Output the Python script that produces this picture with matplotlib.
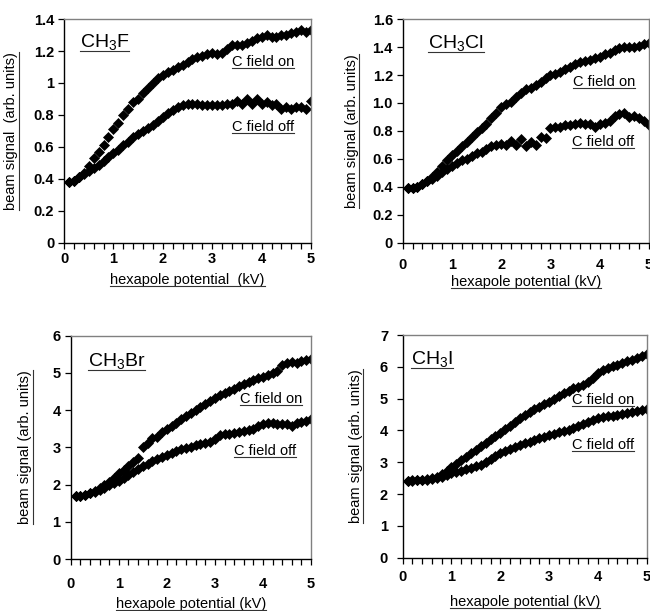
import matplotlib
matplotlib.use("Agg")
import matplotlib.pyplot as plt
from matplotlib.lines import Line2D
from matplotlib.ticker import MultipleLocator, FixedLocator

plt.rcParams['font.family'] = ['Liberation Sans', 'DejaVu Sans']
plt.rcParams['mathtext.default'] = 'regular'

# hexapole potential (kV)
voltage = [0.1, 0.2, 0.3, 0.4, 0.5, 0.6, 0.7, 0.8, 0.9, 1.0,
           1.1, 1.2, 1.3, 1.4, 1.5, 1.6, 1.7, 1.8, 1.9, 2.0,
           2.1, 2.2, 2.3, 2.4, 2.5, 2.6, 2.7, 2.8, 2.9, 3.0,
           3.1, 3.2, 3.3, 3.4, 3.5, 3.6, 3.7, 3.8, 3.9, 4.0,
           4.1, 4.2, 4.3, 4.4, 4.5, 4.6, 4.7, 4.8, 4.9, 5.0]

ch3f_on = [0.38, 0.39, 0.41, 0.44, 0.48, 0.53, 0.57, 0.61, 0.66, 0.71,
           0.75, 0.80, 0.84, 0.88, 0.90, 0.94, 0.97, 1.00, 1.03, 1.05,
           1.07, 1.08, 1.10, 1.11, 1.13, 1.15, 1.16, 1.17, 1.18, 1.19,
           1.18, 1.19, 1.21, 1.24, 1.24, 1.24, 1.25, 1.26, 1.28, 1.29,
           1.30, 1.29, 1.29, 1.30, 1.30, 1.31, 1.32, 1.33, 1.32, 1.33]
ch3f_off = [0.38, 0.39, 0.41, 0.43, 0.45, 0.47, 0.49, 0.51, 0.54, 0.56,
            0.58, 0.61, 0.63, 0.66, 0.68, 0.70, 0.72, 0.74, 0.76, 0.79,
            0.81, 0.83, 0.85, 0.86, 0.87, 0.87, 0.87, 0.86, 0.86, 0.86,
            0.86, 0.86, 0.87, 0.87, 0.89, 0.87, 0.90, 0.87, 0.90, 0.87,
            0.88, 0.86, 0.87, 0.84, 0.85, 0.84, 0.85, 0.85, 0.84, 0.89]

ch3cl_on = [0.39, 0.39, 0.40, 0.42, 0.44, 0.47, 0.51, 0.55, 0.59, 0.63,
            0.66, 0.69, 0.72, 0.76, 0.79, 0.82, 0.85, 0.89, 0.93, 0.97,
            0.99, 1.01, 1.04, 1.07, 1.10, 1.11, 1.13, 1.15, 1.18, 1.20,
            1.21, 1.22, 1.24, 1.26, 1.28, 1.29, 1.30, 1.31, 1.32, 1.33,
            1.35, 1.36, 1.38, 1.39, 1.40, 1.40, 1.40, 1.41, 1.42, 1.43]
ch3cl_off = [0.39, 0.39, 0.40, 0.42, 0.44, 0.46, 0.48, 0.51, 0.53, 0.55,
             0.57, 0.59, 0.60, 0.62, 0.64, 0.65, 0.67, 0.69, 0.70, 0.71,
             0.70, 0.73, 0.70, 0.74, 0.69, 0.72, 0.70, 0.76, 0.75, 0.82,
             0.83, 0.83, 0.84, 0.84, 0.85, 0.86, 0.85, 0.85, 0.83, 0.85,
             0.86, 0.87, 0.91, 0.92, 0.93, 0.90, 0.91, 0.89, 0.87, 0.84]

ch3br_on = [1.70, 1.70, 1.72, 1.77, 1.82, 1.90, 1.98, 2.07, 2.18, 2.30,
            2.40, 2.50, 2.60, 2.72, 3.02, 3.12, 3.24, 3.27, 3.40, 3.50,
            3.58, 3.66, 3.75, 3.84, 3.92, 4.00, 4.09, 4.17, 4.25, 4.32,
            4.40, 4.46, 4.52, 4.58, 4.64, 4.70, 4.76, 4.80, 4.85, 4.90,
            4.95, 5.00, 5.05, 5.21, 5.26, 5.30, 5.27, 5.31, 5.35, 5.38]
ch3br_off = [1.70, 1.70, 1.72, 1.76, 1.80, 1.86, 1.92, 1.98, 2.03, 2.09,
             2.17, 2.26, 2.35, 2.43, 2.49, 2.56, 2.62, 2.68, 2.74, 2.80,
             2.86, 2.91, 2.95, 2.98, 3.02, 3.05, 3.08, 3.11, 3.15, 3.22,
             3.33, 3.36, 3.37, 3.39, 3.41, 3.44, 3.46, 3.50, 3.57, 3.63,
             3.66, 3.65, 3.64, 3.63, 3.62, 3.58, 3.65, 3.69, 3.72, 3.77]

ch3i_on = [2.42, 2.43, 2.44, 2.45, 2.47, 2.50, 2.55, 2.62, 2.72, 2.84,
           2.95, 3.06, 3.17, 3.28, 3.39, 3.50, 3.62, 3.73, 3.83, 3.92,
           4.04, 4.15, 4.26, 4.38, 4.48, 4.57, 4.66, 4.74, 4.82, 4.91,
           5.00, 5.09, 5.17, 5.25, 5.32, 5.38, 5.44, 5.52, 5.65, 5.80,
           5.90, 5.97, 6.02, 6.06, 6.11, 6.17, 6.23, 6.29, 6.35, 6.40]
ch3i_off = [2.42, 2.42, 2.43, 2.44, 2.45, 2.47, 2.50, 2.54, 2.60, 2.65,
            2.70, 2.74, 2.78, 2.82, 2.87, 2.93, 3.01, 3.10, 3.19, 3.28,
            3.35, 3.42, 3.49, 3.55, 3.60, 3.65, 3.70, 3.75, 3.80, 3.86,
            3.90, 3.95, 3.99, 4.03, 4.07, 4.13, 4.19, 4.26, 4.33, 4.38,
            4.43, 4.45, 4.47, 4.49, 4.51, 4.55, 4.59, 4.62, 4.64, 4.66]

titles = ['CH$_3$F', 'CH$_3$Cl', 'CH$_3$Br', 'CH$_3$I']
y_ticks = [[0, 0.2, 0.4, 0.6, 0.8, 1, 1.2, 1.4],
           [0, 0.2, 0.4, 0.6, 0.8, 1.0, 1.2, 1.4, 1.6],
           [0, 1, 2, 3, 4, 5, 6],
           [0, 1, 2, 3, 4, 5, 6, 7]]
y_ticklabels = [['0', '0.2', '0.4', '0.6', '0.8', '1', '1.2', '1.4'],
                ['0', '0.2', '0.4', '0.6', '0.8', '1.0', '1.2', '1.4', '1.6'],
                ['0', '1', '2', '3', '4', '5', '6'],
                ['0', '1', '2', '3', '4', '5', '6', '7']]
x_ticks = [0, 1, 2, 3, 4, 5]
x_ticklabels = ['0', '1', '2', '3', '4', '5']
on_series = [ch3f_on, ch3cl_on, ch3br_on, ch3i_on]
off_series = [ch3f_off, ch3cl_off, ch3br_off, ch3i_off]
label_on = 'C field on'
label_off = 'C field off'
xlabels = ['hexapole potential  (kV)', 'hexapole potential (kV)',
           'hexapole potential (kV)', 'hexapole potential (kV)']
ylabels = ['beam signal  (arb. units)', 'beam signal (arb. units)',
           'beam signal (arb. units)', 'beam signal (arb. units)']

# layout (figure fractions) and text positions (data coords)
rects = [[0.0985, 0.6023, 0.380, 0.3666],
         [0.6195, 0.6023, 0.379, 0.3666],
         [0.1088, 0.0851, 0.3697, 0.3655],
         [0.6195, 0.0872, 0.3754, 0.3645]]
title_pos = [(0.32, 1.255), (0.52, 1.43), (0.35, 5.32), (0.18, 6.24)]
on_pos = [(3.40, 1.13), (3.46, 1.15), (3.52, 4.30), (3.47, 4.96)]
off_pos = [(3.40, 0.725), (3.43, 0.72), (3.40, 2.91), (3.47, 3.54)]
ylabel_x = [-0.186, -0.178, -0.161, -0.163]
xlabel_y = [-0.134, -0.143, -0.168, -0.167]
xpad = [2.2, 6.5, 9.0, 5.0]
ypad = [3.0, 3.0, 3.3, 6.5]

fig = plt.figure(figsize=(6.5, 6.11), dpi=100)
underlined = []
for i in range(4):
    ax = fig.add_axes(rects[i])
    ax.plot(voltage, on_series[i], linestyle='none', marker='D', markersize=5.2,
            color='black', markeredgewidth=0.5)
    ax.plot(voltage, off_series[i], linestyle='none', marker='D', markersize=5.2,
            color='black', markeredgewidth=0.5)
    ax.set_xlim(0, 5)
    ax.set_ylim(y_ticks[i][0], y_ticks[i][-1])
    ax.xaxis.set_major_locator(FixedLocator(x_ticks))
    ax.set_xticklabels(x_ticklabels)
    ax.xaxis.set_minor_locator(MultipleLocator(0.2))
    ax.set_yticks(y_ticks[i])
    ax.set_yticklabels(y_ticklabels[i])
    ax.tick_params(axis='x', which='both', direction='out', length=4, width=0.9,
                   pad=xpad[i], labelsize=10.5)
    ax.tick_params(axis='y', which='both', direction='out', length=4, width=0.9,
                   pad=ypad[i], labelsize=10.5)
    for lab in ax.get_xticklabels() + ax.get_yticklabels():
        lab.set_fontweight('bold')
    for s in ['left', 'bottom']:
        ax.spines[s].set_color('black')
        ax.spines[s].set_linewidth(1.0)
    for s in ['top', 'right']:
        ax.spines[s].set_color('#808080')
        ax.spines[s].set_linewidth(1.0)
    xl = ax.set_xlabel(xlabels[i], fontsize=10.5)
    ax.xaxis.set_label_coords(0.5, xlabel_y[i])
    yl = ax.set_ylabel(ylabels[i], fontsize=10.5)
    ax.yaxis.set_label_coords(ylabel_x[i], 0.5)
    t = ax.text(title_pos[i][0], title_pos[i][1], titles[i], fontsize=14,
                ha='left', va='center')
    a = ax.text(on_pos[i][0], on_pos[i][1], label_on, fontsize=10.5,
                ha='left', va='center')
    b = ax.text(off_pos[i][0], off_pos[i][1], label_off, fontsize=10.5,
                ha='left', va='center')
    underlined += [(t, 'h'), (a, 'h'), (b, 'h'), (xl, 'h'), (yl, 'v')]

fig.canvas.draw()
r = fig.canvas.get_renderer()
W, H = fig.bbox.width, fig.bbox.height
for txt, orient in underlined:
    bb = txt.get_window_extent(r)
    if orient == 'h':
        yy = (bb.y0 + 1.0) / H
        fig.add_artist(Line2D([bb.x0 / W, bb.x1 / W], [yy, yy],
                              transform=fig.transFigure, color='#333333', lw=0.8))
    else:
        xx = (bb.x1 + 0.5) / W
        fig.add_artist(Line2D([xx, xx], [bb.y0 / H, bb.y1 / H],
                              transform=fig.transFigure, color='#333333', lw=0.8))

fig.savefig('out.png', dpi=100)
